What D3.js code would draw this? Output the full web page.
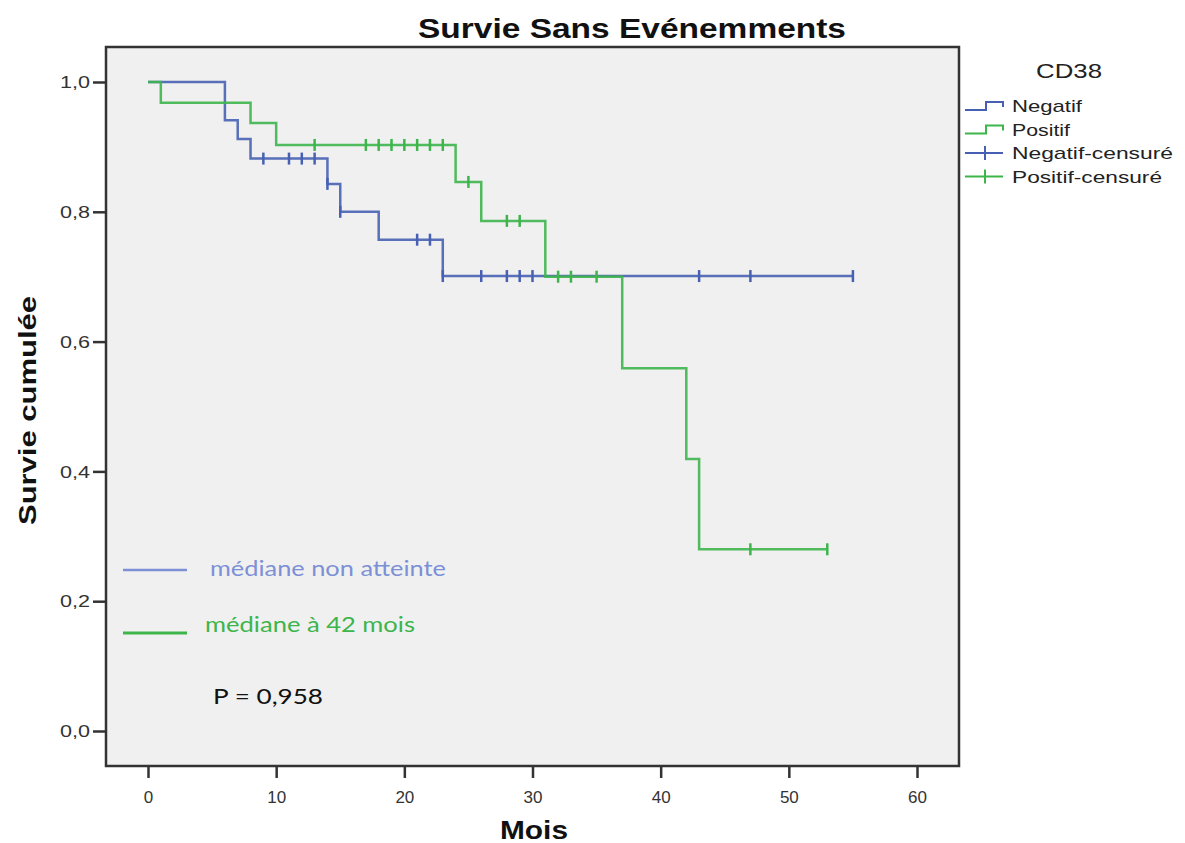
<!DOCTYPE html>
<html>
<head>
<meta charset="utf-8">
<script src="https://cdn.jsdelivr.net/npm/d3@7"></script>
<style>
  body { margin: 0; background: #fff; }
  svg { display: block; }
  text { font-family: "Liberation Sans", Arial, sans-serif; }
</style>
</head>
<body>
<div class="chart"></div>
<script>
// Kaplan-Meier data
var negTimes = [0, 6, 7, 8, 14, 15, 18, 23];
var negSurv = [1.0, 0.941, 0.912, 0.882, 0.843, 0.800, 0.757, 0.701];
var negEnd = 55;
var negCensor = [9, 11, 12, 13, 14, 15, 21, 22, 23, 26, 28, 29, 30, 43, 47, 55];

var posTimes = [0, 1, 8, 10, 24, 26, 31, 37, 42, 43];
var posSurv = [1.0, 0.968, 0.937, 0.903, 0.846, 0.786, 0.700, 0.559, 0.419, 0.280];
var posEnd = 53;
var posCensor = [13, 17, 18, 19, 20, 21, 22, 23, 25, 28, 29, 32, 33, 35, 47, 53];

var xTicks = [0, 10, 20, 30, 40, 50, 60];
var yTicks = [0, 0.2, 0.4, 0.6, 0.8, 1.0];
var legendLabels = ["Negatif", "Positif", "Negatif-censuré", "Positif-censuré"];

var blue = "#4760b3", green = "#3db54b";

var W = 1185, H = 843;
var frame = {left: 106, right: 959, top: 47, bottom: 766};

var svg = d3.select('.chart').
    append('svg').
    attr('width', W).
    attr('height', H);

var x = d3.scaleLinear().domain([0, 60]).range([148, 917]);
var y = d3.scaleLinear().domain([0, 1]).range([731, 82]);

// stretch text to the measured width (the source image is widened)
function fit(sel, w) {
    return sel.attr('textLength', w).attr('lengthAdjust', 'spacingAndGlyphs');
}

// plot background and frame
svg.append('rect')
    .attr('x', frame.left).attr('y', frame.top)
    .attr('width', frame.right - frame.left)
    .attr('height', frame.bottom - frame.top)
    .attr('fill', '#f0f0f0')
    .attr('stroke', '#333')
    .attr('stroke-width', 2.5);

// axes
var yAxis = d3.axisLeft(y).tickValues(yTicks).tickSize(13).tickPadding(3)
    .tickFormat(function(d) { return d3.format('.1f')(d).replace('.', ','); });
var gy = svg.append('g').attr('transform', 'translate(' + frame.left + ',0)').call(yAxis);
gy.select('.domain').remove();
gy.selectAll('line').attr('stroke', '#333').attr('stroke-width', 2.5);
gy.selectAll('text').attr('font-size', 16).attr('fill', '#333').attr('dy', '0.35em')
    .attr('textLength', 30).attr('lengthAdjust', 'spacingAndGlyphs');

var xAxis = d3.axisBottom(x).tickValues(xTicks).tickSize(11).tickPadding(13);
var gx = svg.append('g').attr('transform', 'translate(0,' + (frame.bottom + 1) + ')').call(xAxis);
gx.select('.domain').remove();
gx.selectAll('line').attr('stroke', '#333').attr('stroke-width', 2.5);
gx.selectAll('text').attr('font-size', 17).attr('fill', '#333');

// survival step lines
function steps(times, surv, end) {
    var pts = times.map(function(t, i) { return [t, surv[i]]; });
    pts.push([end, surv[surv.length - 1]]);
    return pts;
}
function survAt(times, surv, t) {
    return surv[d3.bisectRight(times, t) - 1];
}

var line = d3.line()
    .x(function(d) { return x(d[0]); })
    .y(function(d) { return y(d[1]); })
    .curve(d3.curveStepAfter);

var groups = [
    {times: negTimes, surv: negSurv, end: negEnd, censor: negCensor, color: blue},
    {times: posTimes, surv: posSurv, end: posEnd, censor: posCensor, color: green}
];

groups.forEach(function(g) {
    svg.append('path')
        .datum(steps(g.times, g.surv, g.end))
        .attr('d', line)
        .attr('fill', 'none')
        .attr('stroke', g.color)
        .attr('stroke-width', 2.5)
        .attr('stroke-opacity', 0.9);

    svg.selectAll(null)
        .data(g.censor)
        .enter().append('line')
        .attr('x1', function(d) { return x(d); })
        .attr('x2', function(d) { return x(d); })
        .attr('y1', function(d) { return y(survAt(g.times, g.surv, d)) - 6; })
        .attr('y2', function(d) { return y(survAt(g.times, g.surv, d)) + 6; })
        .attr('stroke', g.color)
        .attr('stroke-width', 2.5);
});

// title
fit(svg.append('text')
    .attr('x', 418).attr('y', 38)
    .attr('font-size', 28).attr('font-weight', 'bold').attr('fill', '#111')
    .text('Survie Sans Evénemments'), 428);

// axis titles
fit(svg.append('text')
    .attr('x', 500).attr('y', 839)
    .attr('font-size', 25).attr('font-weight', 'bold').attr('fill', '#111')
    .text('Mois'), 68);

fit(svg.append('text')
    .attr('transform', 'translate(36,525) rotate(-90)')
    .attr('font-size', 24).attr('font-weight', 'bold').attr('fill', '#111')
    .text('Survie cumulée'), 229);

// legend
fit(svg.append('text')
    .attr('x', 1036).attr('y', 78)
    .attr('font-size', 21).attr('fill', '#222')
    .text('CD38'), 66);

var legend = svg.selectAll('.legend')
    .data(legendLabels)
    .enter().append('g')
    .attr('class', 'legend')
    .attr('transform', function(d, i) { return 'translate(965,' + (106 + i * 23.5) + ')'; });

legend.append('path')
    .attr('d', function(d, i) {
        if (i < 2) return 'M0,4H21V-4H38V1';
        return 'M0,0H38M20,-7V7';
    })
    .attr('fill', 'none')
    .attr('stroke', function(d, i) { return i % 2 === 0 ? blue : green; })
    .attr('stroke-width', 2);

legend.append('text')
    .attr('x', 47).attr('y', 6)
    .attr('font-size', 17).attr('fill', '#222')
    .text(function(d) { return d; })
    .attr('textLength', function(d) { return {"Negatif": 70, "Positif": 58, "Negatif-censuré": 161, "Positif-censuré": 150}[d]; })
    .attr('lengthAdjust', 'spacingAndGlyphs');

// annotations
svg.append('line')
    .attr('x1', 123).attr('x2', 187).attr('y1', 570).attr('y2', 570)
    .attr('stroke', '#7d90d6').attr('stroke-width', 2.5);
fit(svg.append('text')
    .attr('x', 210).attr('y', 576)
    .attr('font-size', 21).attr('fill', '#7d90d6')
    .style('font-family', 'Lato, "Open Sans", sans-serif')
    .text('médiane non atteinte'), 236);

svg.append('line')
    .attr('x1', 123).attr('x2', 187).attr('y1', 633).attr('y2', 633)
    .attr('stroke', green).attr('stroke-width', 3);
fit(svg.append('text')
    .attr('x', 205).attr('y', 632)
    .attr('font-size', 21).attr('fill', green)
    .style('font-family', 'Lato, "Open Sans", sans-serif')
    .text('médiane à 42 mois'), 210);

fit(svg.append('text')
    .attr('x', 213).attr('y', 704)
    .attr('font-size', 21).attr('fill', '#111')
    .style('font-family', 'Lato, "Open Sans", sans-serif')
    .text('P = 0,958'), 110);
</script>
</body>
</html>
